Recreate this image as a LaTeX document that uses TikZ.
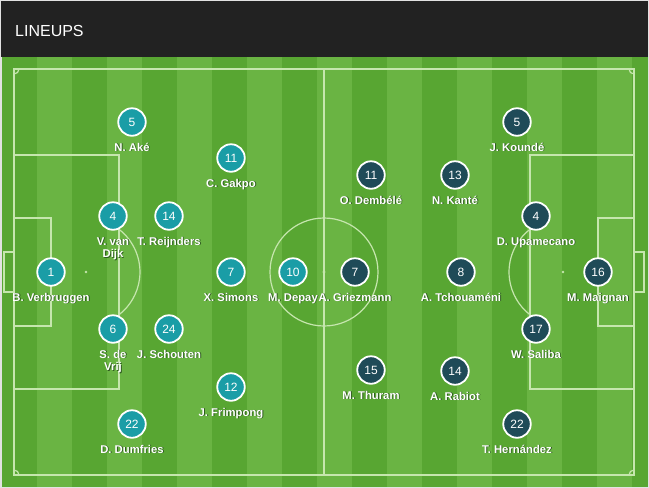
\documentclass[tikz,border=0pt]{standalone}
\usepackage{fontspec}
\setmainfont{Liberation Sans}
\definecolor{bgc}{HTML}{E2E2E2}
\definecolor{hdrc}{HTML}{222222}
\definecolor{darkg}{HTML}{58A632}
\definecolor{lightg}{HTML}{6AB443}
\definecolor{linec}{HTML}{C6E6AE}
\definecolor{nlc}{HTML}{1A9DA6}
\definecolor{frc}{HTML}{1F4B58}
\definecolor{shc}{HTML}{2F5C20}
\newcommand\shtxt[1]{\rlap{\kern0.9pt\raisebox{-0.9pt}{\textcolor{shc}{#1}}}#1}
% #7 = offset of the last baseline below the circle centre
\newcommand\player[7]{%
  \node[#1] (#2) at (#3,#4) {#5};
  \node[lab] (#2l) at (#3,#4+#7) {#6};}
\begin{document}
\begin{tikzpicture}[x=1pt,y=-1pt,
  pline/.style={draw=linec, line width=1.2pt},
  spot/.style={fill=linec},
  pbase/.style={circle, draw=white, line width=1.8pt, minimum size=27.5pt, inner sep=0pt,
    text=white, font=\fontsize{12}{14}\selectfont},
  nl/.style={pbase, fill=nlc},
  fr/.style={pbase, fill=frc},
  lab/.style={anchor=base, inner sep=0pt, text=white, align=center,
    font=\bfseries\fontsize{11.3}{12.3}\selectfont}]
\useasboundingbox (0,0) rectangle (649,488);
\fill[bgc] (0,0) rectangle (649,488);
\fill[hdrc] (1,1) rectangle (648,57);
\node[anchor=base west, inner sep=0pt, text=white, font=\fontsize{16}{19}\selectfont] (title) at (15,36) {LINEUPS};
% pitch stripes
\fill[lightg] (2,57) rectangle (648,487);
\foreach \k in {0,2,...,18} {
  \pgfmathsetmacro\xa{2+35*\k}
  \pgfmathsetmacro\xb{min(37+35*\k,648)}
  \fill[darkg] (\xa,57) rectangle (\xb,487);
}
% pitch markings
\draw[pline] (14,69) rectangle (634,475);
\draw[pline] (324,69) -- (324,475);
\draw[pline] (324,272) circle (54);
\fill[spot] (324,272) circle (1.6);
% left end
\draw[pline] (14,155) rectangle (119,389);
\draw[pline] (14,218) rectangle (51,326);
\draw[pline] (14,252) -- (4,252) -- (4,292) -- (14,292);
\draw[pline] (119,229.3) arc[start angle=-52.3, end angle=52.3, radius=54];
\fill[spot] (86,272) circle (1.4);
% right end
\draw[pline] (530,155) rectangle (634,389);
\draw[pline] (598,218) rectangle (634,326);
\draw[pline] (634,252) -- (644,252) -- (644,292) -- (634,292);
\draw[pline] (530,229.3) arc[start angle=232.3, end angle=127.7, radius=54];
\fill[spot] (563,272) circle (1.4);
% corner arcs
\draw[pline] (19,69) arc[start angle=0, end angle=90, radius=5];
\draw[pline] (629,69) arc[start angle=180, end angle=90, radius=5];
\draw[pline] (19,475) arc[start angle=0, end angle=-90, radius=5];
\draw[pline] (629,475) arc[start angle=180, end angle=270, radius=5];
% Netherlands
\player{nl}{n5}{132}{122}{5}{\shtxt{N. Aké}}{29}
\player{nl}{n11}{231}{158}{11}{\shtxt{C. Gakpo}}{29}
\player{nl}{n4}{113}{216}{4}{\shtxt{V. van}\\\shtxt{Dijk}}{41.3}
\player{nl}{n14}{169}{216}{14}{\shtxt{T. Reijnders}}{29}
\player{nl}{n1}{51}{272}{1}{\shtxt{B. Verbruggen}}{29}
\player{nl}{n7}{231}{272}{7}{\shtxt{X. Simons}}{29}
\player{nl}{n10}{293}{272}{10}{\shtxt{M. Depay}}{29}
\player{nl}{n6}{113}{329}{6}{\shtxt{S. de}\\\shtxt{Vrij}}{41.3}
\player{nl}{n24}{169}{329}{24}{\shtxt{J. Schouten}}{29}
\player{nl}{n12}{231}{387}{12}{\shtxt{J. Frimpong}}{29}
\player{nl}{n22}{132}{424}{22}{\shtxt{D. Dumfries}}{29}
% France
\player{fr}{f5}{517}{122}{5}{\shtxt{J. Koundé}}{29}
\player{fr}{f11}{371}{175}{11}{\shtxt{O. Dembélé}}{29}
\player{fr}{f13}{455}{175}{13}{\shtxt{N. Kanté}}{29}
\player{fr}{f4}{536}{216}{4}{\shtxt{D. Upamecano}}{29}
\player{fr}{f7}{355}{272}{7}{\shtxt{A. Griezmann}}{29}
\player{fr}{f8}{461}{272}{8}{\shtxt{A. Tchouaméni}}{29}
\player{fr}{f16}{598}{272}{16}{\shtxt{M. Maignan}}{29}
\player{fr}{f17}{536}{329}{17}{\shtxt{W. Saliba}}{29}
\player{fr}{f15}{371}{370}{15}{\shtxt{M. Thuram}}{29}
\player{fr}{f14}{455}{371}{14}{\shtxt{A. Rabiot}}{29}
\player{fr}{f22}{517}{424}{22}{\shtxt{T. Hernández}}{29}
\end{tikzpicture}
\end{document}
